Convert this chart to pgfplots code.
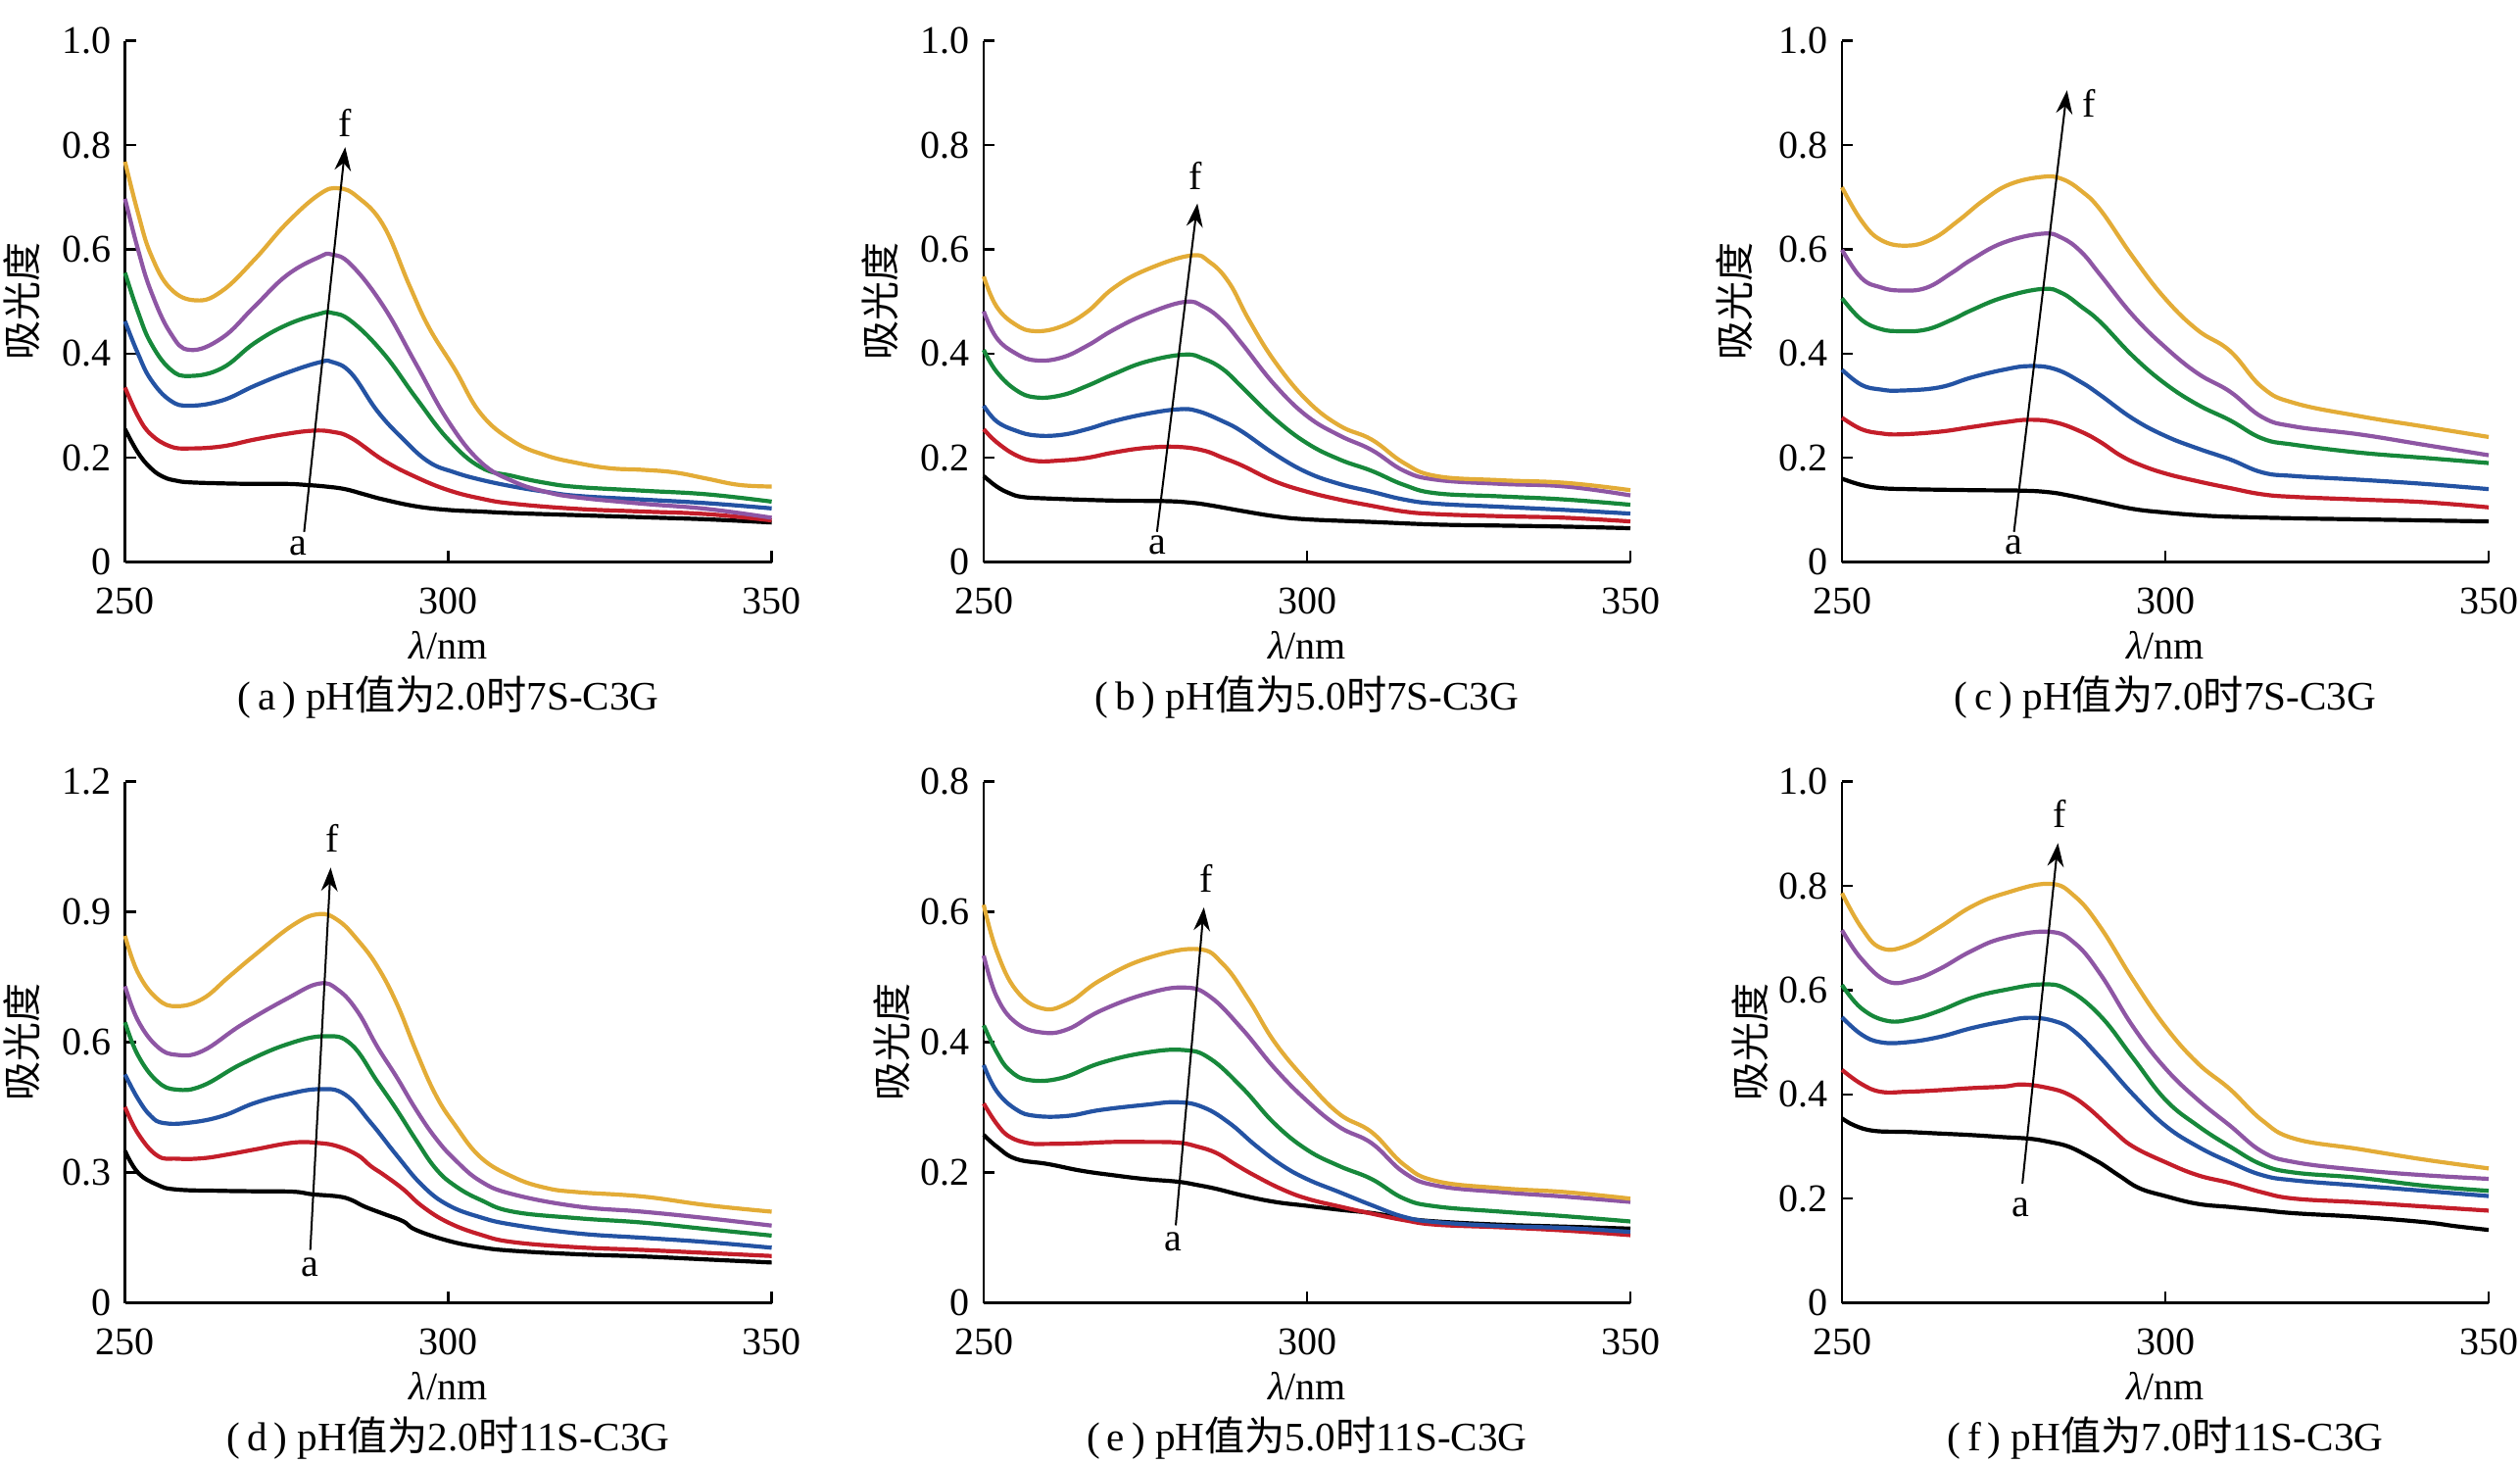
\documentclass[border=0pt]{standalone}
\usepackage{fontspec}
\setmainfont{Liberation Serif}
\newfontfamily\cjk{Noto Sans CJK SC}
\usepackage{pgfplots}
\pgfplotsset{compat=1.18}
\usetikzlibrary{arrows.meta}
\definecolor{cK}{HTML}{000000}
\definecolor{cR}{HTML}{C41E2A}
\definecolor{cB}{HTML}{2453A3}
\definecolor{cG}{HTML}{17883B}
\definecolor{cP}{HTML}{8E56A4}
\definecolor{cY}{HTML}{E3AC37}
\pgfplotsset{
  spec/.style={
    scale only axis, width=165pt, height=133pt, anchor=north west,
    xmin=250, xmax=350, ymin=0,
    axis x line*=bottom, axis y line*=left,
    axis line style={line width=0.6pt, black},
    tick align=inside, major tick length=2.8pt,
    tick style={line width=0.6pt, black},
    xtick={250,300,350},
    /pgf/number format/assume math mode=true,
    ticklabel style={font=\fontsize{10}{12}\selectfont},
    xticklabel style={yshift=-3pt},
    xlabel={\textit{λ}/nm},
    every axis x label/.style={at={(axis description cs:0.5,0)},anchor=center,yshift=-21.3pt,font=\fontsize{10}{12}\selectfont},
    ylabel={{\cjk 吸光度}},
    every axis y label/.style={at={(axis description cs:-0.16,0.5)},anchor=center,rotate=90,font=\fontsize{10}{12}\selectfont},
    every axis title/.style={at={(axis description cs:0.5,0)},anchor=center,yshift=-34.5pt,font=\fontsize{10.3}{12}\selectfont},
    clip=false,
    every axis plot/.append style={line width=1.05pt, smooth, tension=0.7, no marks},
  },
  yl/.style={every axis y label/.append style={at={(axis description cs:-#1,0.5)}}},
}
\newcommand{\arr}[8]{%
  \draw[line width=0.5pt,-{Stealth[length=6pt,width=4.2pt]}] (axis cs:#1,#2) -- (axis cs:#3,#4);
  \node[font=\fontsize{10}{12}\selectfont,inner sep=0pt] at (axis cs:#5,#6) {a};
  \node[font=\fontsize{10}{12}\selectfont,inner sep=0pt] at (axis cs:#7,#8) {f};}
\begin{document}
\begin{tikzpicture}
\useasboundingbox (0pt,0pt) rectangle (643pt,-373.25pt);
% (a)
\begin{axis}[spec, at={(31.9pt,-10.4pt)}, ymax=1, ytick={0,0.2,0.4,0.6,0.8,1.0}, yticklabels={0,0.2,0.4,0.6,0.8,1.0},
  title={(\,a\,) pH{\cjk 值为}2.0{\cjk 时}7S-C3G}]
\addplot[cK] coordinates {(250,0.255)(252,0.21)(254,0.18)(256,0.163)(258,0.156)(260,0.153)(265,0.151)(270,0.150)(275,0.150)(278,0.148)(281,0.145)(284,0.14)(287,0.13)(290,0.12)(295,0.107)(300,0.100)(305,0.097)(310,0.094)(320,0.090)(330,0.086)(340,0.082)(350,0.076)};
\addplot[cR] coordinates {(250,0.335)(252,0.28)(254,0.245)(257,0.222)(260,0.218)(265,0.222)(270,0.235)(275,0.246)(279,0.252)(282,0.25)(285,0.238)(290,0.195)(295,0.163)(300,0.138)(305,0.122)(310,0.112)(320,0.102)(330,0.097)(340,0.092)(350,0.08)};
\addplot[cB] coordinates {(250,0.462)(252,0.4)(254,0.35)(257,0.31)(260,0.3)(265,0.31)(270,0.338)(275,0.363)(280,0.383)(282,0.384)(285,0.362)(289,0.29)(293,0.236)(297,0.192)(301,0.172)(305,0.158)(310,0.145)(315,0.135)(320,0.127)(330,0.12)(340,0.113)(350,0.103)};
\addplot[cG] coordinates {(250,0.555)(252,0.48)(254,0.42)(257,0.37)(260,0.357)(265,0.372)(270,0.42)(275,0.455)(280,0.476)(282,0.478)(285,0.462)(290,0.4)(295,0.315)(300,0.235)(305,0.182)(310,0.165)(315,0.152)(320,0.144)(330,0.137)(340,0.13)(350,0.116)};
\addplot[cP] coordinates {(250,0.697)(252,0.6)(254,0.52)(257,0.44)(260,0.407)(265,0.43)(270,0.49)(275,0.55)(280,0.585)(282,0.59)(285,0.57)(290,0.49)(295,0.38)(300,0.27)(305,0.192)(310,0.155)(315,0.135)(320,0.124)(330,0.112)(340,0.102)(350,0.085)};
\addplot[cY] coordinates {(250,0.768)(252,0.67)(254,0.59)(257,0.525)(261,0.502)(265,0.52)(270,0.58)(275,0.65)(280,0.705)(283,0.717)(286,0.7)(290,0.645)(294,0.53)(297,0.45)(301,0.37)(305,0.285)(310,0.232)(315,0.205)(320,0.19)(325,0.18)(330,0.177)(335,0.172)(340,0.16)(345,0.148)(350,0.145)};
\arr{277.7}{0.058}{284.05}{0.796}{276.8}{0.03}{284.1}{0.843}
\end{axis}
% (b)
\begin{axis}[spec, at={(251pt,-10.4pt)}, ymax=1, ytick={0,0.2,0.4,0.6,0.8,1.0}, yticklabels={0,0.2,0.4,0.6,0.8,1.0},
  title={(\,b\,) pH{\cjk 值为}5.0{\cjk 时}7S-C3G}]
\addplot[cK] coordinates {(250,0.165)(252,0.145)(254,0.132)(256,0.125)(260,0.122)(270,0.118)(278,0.117)(282,0.114)(285,0.109)(290,0.098)(295,0.088)(300,0.082)(310,0.077)(320,0.072)(330,0.07)(340,0.068)(350,0.065)};
\addplot[cR] coordinates {(250,0.255)(252,0.23)(255,0.205)(258,0.194)(262,0.195)(266,0.2)(270,0.21)(275,0.219)(280,0.221)(284,0.214)(287,0.2)(290,0.185)(295,0.155)(300,0.135)(305,0.12)(310,0.108)(315,0.097)(320,0.092)(330,0.088)(340,0.085)(350,0.078)};
\addplot[cB] coordinates {(250,0.3)(252,0.27)(255,0.252)(258,0.243)(262,0.244)(266,0.255)(270,0.27)(275,0.284)(280,0.293)(283,0.29)(287,0.27)(290,0.25)(295,0.207)(300,0.172)(305,0.15)(310,0.135)(315,0.12)(320,0.112)(330,0.106)(340,0.1)(350,0.093)};
\addplot[cG] coordinates {(250,0.407)(252,0.365)(255,0.33)(258,0.316)(262,0.32)(266,0.338)(270,0.36)(275,0.384)(281,0.398)(284,0.39)(287,0.37)(290,0.335)(295,0.275)(300,0.228)(305,0.197)(310,0.175)(315,0.148)(320,0.132)(330,0.126)(340,0.12)(350,0.11)};
\addplot[cP] coordinates {(250,0.481)(252,0.43)(255,0.4)(258,0.387)(262,0.392)(266,0.415)(270,0.445)(275,0.475)(281,0.499)(284,0.49)(287,0.462)(290,0.418)(295,0.34)(300,0.28)(305,0.243)(310,0.215)(315,0.175)(320,0.158)(330,0.15)(340,0.145)(350,0.128)};
\addplot[cY] coordinates {(250,0.548)(252,0.49)(255,0.455)(258,0.443)(262,0.452)(266,0.48)(270,0.525)(275,0.56)(282,0.588)(285,0.575)(288,0.535)(291,0.465)(295,0.385)(300,0.31)(305,0.262)(310,0.235)(315,0.19)(320,0.165)(330,0.157)(340,0.152)(350,0.138)};
\arr{276.8}{0.058}{283.05}{0.688}{276.8}{0.032}{282.8}{0.741}
\end{axis}
% (c)
\begin{axis}[spec, yl=0.167, at={(470pt,-10.4pt)}, ymax=1, ytick={0,0.2,0.4,0.6,0.8,1.0}, yticklabels={0,0.2,0.4,0.6,0.8,1.0},
  title={(\,c\,) pH{\cjk 值为}7.0{\cjk 时}7S-C3G}]
\addplot[cK] coordinates {(250,0.16)(253,0.148)(256,0.142)(260,0.14)(270,0.138)(278,0.137)(282,0.134)(285,0.128)(290,0.115)(295,0.102)(300,0.095)(305,0.09)(310,0.087)(320,0.084)(330,0.082)(340,0.08)(350,0.078)};
\addplot[cR] coordinates {(250,0.277)(253,0.255)(256,0.247)(259,0.245)(265,0.25)(270,0.259)(275,0.268)(279,0.273)(283,0.268)(287,0.25)(290,0.23)(293,0.205)(296,0.187)(300,0.17)(305,0.155)(310,0.142)(315,0.13)(320,0.125)(330,0.12)(340,0.115)(350,0.105)};
\addplot[cB] coordinates {(250,0.369)(253,0.34)(256,0.331)(259,0.329)(265,0.335)(270,0.354)(275,0.369)(279,0.376)(283,0.37)(287,0.345)(290,0.32)(295,0.275)(300,0.242)(305,0.218)(310,0.197)(315,0.172)(320,0.165)(330,0.158)(340,0.15)(350,0.14)};
\addplot[cG] coordinates {(250,0.506)(253,0.465)(256,0.447)(259,0.443)(263,0.446)(267,0.465)(270,0.483)(275,0.508)(281,0.524)(284,0.516)(287,0.49)(290,0.46)(295,0.395)(300,0.342)(305,0.302)(310,0.272)(315,0.237)(320,0.225)(330,0.21)(340,0.2)(350,0.19)};
\addplot[cP] coordinates {(250,0.599)(253,0.545)(256,0.527)(259,0.521)(263,0.526)(267,0.555)(270,0.58)(275,0.613)(281,0.63)(284,0.622)(287,0.595)(290,0.55)(295,0.473)(300,0.412)(305,0.362)(310,0.327)(315,0.278)(320,0.26)(330,0.245)(340,0.225)(350,0.205)};
\addplot[cY] coordinates {(250,0.719)(253,0.655)(256,0.618)(260,0.607)(264,0.62)(268,0.655)(272,0.695)(276,0.725)(281,0.739)(284,0.735)(287,0.712)(290,0.675)(295,0.585)(300,0.505)(305,0.445)(310,0.405)(315,0.335)(320,0.305)(330,0.28)(340,0.26)(350,0.24)};
\arr{276.6}{0.058}{284.8}{0.905}{276.6}{0.032}{288.2}{0.881}
\end{axis}
% (d)
\begin{axis}[spec, at={(31.9pt,-199.4pt)}, ymax=1.2, ytick={0,0.3,0.6,0.9,1.2}, yticklabels={0,0.3,0.6,0.9,1.2},
  title={(\,d\,) pH{\cjk 值为}2.0{\cjk 时}11S-C3G}]
\addplot[cK] coordinates {(250,0.35)(252,0.3)(255,0.272)(258,0.261)(265,0.258)(270,0.257)(276,0.256)(279,0.25)(283,0.245)(285,0.237)(287,0.222)(290,0.205)(293,0.188)(295,0.168)(300,0.143)(305,0.128)(310,0.12)(320,0.112)(330,0.107)(340,0.1)(350,0.093)};
\addplot[cR] coordinates {(250,0.451)(252,0.39)(255,0.339)(258,0.332)(262,0.333)(266,0.342)(270,0.353)(276,0.369)(280,0.368)(283,0.36)(286,0.34)(288,0.315)(290,0.295)(293,0.262)(296,0.222)(300,0.185)(305,0.157)(310,0.14)(320,0.128)(330,0.122)(340,0.115)(350,0.108)};
\addplot[cB] coordinates {(250,0.526)(252,0.47)(254,0.43)(256,0.414)(260,0.415)(265,0.43)(270,0.46)(275,0.48)(280,0.492)(284,0.48)(288,0.415)(292,0.34)(296,0.27)(300,0.225)(305,0.197)(310,0.18)(320,0.16)(330,0.15)(340,0.14)(350,0.127)};
\addplot[cG] coordinates {(250,0.646)(252,0.57)(255,0.51)(258,0.491)(262,0.5)(268,0.55)(275,0.595)(281,0.614)(285,0.595)(289,0.51)(292,0.445)(295,0.375)(298,0.31)(301,0.27)(305,0.237)(310,0.21)(320,0.195)(330,0.185)(340,0.17)(350,0.155)};
\addplot[cP] coordinates {(250,0.729)(252,0.65)(255,0.59)(258,0.571)(262,0.58)(268,0.64)(275,0.7)(280,0.735)(283,0.72)(286,0.67)(289,0.59)(292,0.52)(295,0.445)(298,0.38)(301,0.33)(305,0.28)(310,0.25)(320,0.222)(330,0.21)(340,0.195)(350,0.178)};
\addplot[cY] coordinates {(250,0.845)(252,0.76)(255,0.7)(258,0.683)(262,0.7)(266,0.75)(270,0.8)(276,0.87)(280,0.895)(283,0.88)(286,0.835)(289,0.775)(292,0.69)(295,0.58)(298,0.48)(301,0.41)(305,0.335)(310,0.29)(315,0.265)(320,0.255)(330,0.245)(340,0.225)(350,0.21)};
\arr{278.65}{0.122}{281.8}{1.002}{278.65}{0.082}{282.06}{1.07}
\end{axis}
% (e)
\begin{axis}[spec, yl=0.1424, at={(251pt,-199.4pt)}, ymax=0.8, ytick={0,0.2,0.4,0.6,0.8}, yticklabels={0,0.2,0.4,0.6,0.8},
  title={(\,e\,) pH{\cjk 值为}5.0{\cjk 时}11S-C3G}]
\addplot[cK] coordinates {(250,0.258)(252,0.24)(255,0.221)(260,0.213)(265,0.203)(270,0.196)(275,0.19)(280,0.186)(283,0.181)(286,0.175)(290,0.165)(295,0.155)(300,0.149)(305,0.143)(310,0.138)(315,0.13)(320,0.125)(330,0.12)(340,0.117)(350,0.114)};
\addplot[cR] coordinates {(250,0.306)(252,0.275)(254,0.255)(257,0.245)(260,0.244)(265,0.245)(270,0.247)(275,0.247)(280,0.246)(283,0.24)(286,0.23)(289,0.212)(292,0.195)(296,0.175)(300,0.16)(305,0.148)(310,0.137)(315,0.127)(320,0.12)(330,0.116)(340,0.111)(350,0.104)};
\addplot[cB] coordinates {(250,0.365)(252,0.325)(255,0.297)(258,0.287)(263,0.287)(268,0.296)(275,0.304)(280,0.308)(284,0.3)(288,0.276)(292,0.242)(296,0.212)(300,0.19)(305,0.17)(310,0.15)(315,0.132)(320,0.124)(330,0.118)(340,0.115)(350,0.109)};
\addplot[cG] coordinates {(250,0.426)(252,0.385)(254,0.357)(257,0.342)(262,0.345)(268,0.368)(275,0.384)(281,0.388)(285,0.375)(290,0.33)(295,0.275)(300,0.235)(305,0.21)(310,0.19)(315,0.16)(320,0.148)(330,0.14)(340,0.133)(350,0.125)};
\addplot[cP] coordinates {(250,0.533)(252,0.47)(255,0.43)(259,0.415)(263,0.42)(268,0.448)(275,0.474)(281,0.484)(285,0.47)(290,0.42)(295,0.36)(300,0.31)(305,0.27)(310,0.245)(315,0.2)(320,0.18)(330,0.17)(340,0.163)(350,0.155)};
\addplot[cY] coordinates {(250,0.611)(252,0.54)(255,0.48)(259,0.452)(263,0.46)(268,0.495)(275,0.528)(283,0.543)(287,0.52)(291,0.465)(295,0.4)(300,0.34)(305,0.29)(310,0.262)(315,0.212)(320,0.187)(330,0.176)(340,0.17)(350,0.16)};
\arr{279.7}{0.119}{284.05}{0.607}{279.3}{0.094}{284.4}{0.652}
\end{axis}
% (f)
\begin{axis}[spec, yl=0.1424, at={(470pt,-199.4pt)}, ymax=1, ytick={0,0.2,0.4,0.6,0.8,1.0}, yticklabels={0,0.2,0.4,0.6,0.8,1.0},
  title={(\,f\,) pH{\cjk 值为}7.0{\cjk 时}11S-C3G}]
\addplot[cK] coordinates {(250,0.354)(252,0.34)(255,0.33)(260,0.328)(265,0.325)(270,0.322)(275,0.318)(279,0.315)(282,0.309)(285,0.3)(288,0.282)(290,0.268)(293,0.243)(296,0.22)(300,0.205)(305,0.19)(310,0.184)(315,0.178)(320,0.172)(330,0.165)(340,0.155)(345,0.147)(350,0.14)};
\addplot[cR] coordinates {(250,0.447)(253,0.42)(256,0.405)(260,0.405)(265,0.408)(270,0.412)(275,0.415)(278,0.419)(282,0.412)(285,0.4)(288,0.375)(292,0.33)(295,0.3)(300,0.27)(305,0.245)(310,0.23)(315,0.212)(320,0.2)(330,0.193)(340,0.185)(350,0.177)};
\addplot[cB] coordinates {(250,0.548)(253,0.515)(256,0.5)(260,0.5)(265,0.51)(270,0.527)(275,0.54)(279,0.547)(283,0.54)(286,0.52)(290,0.47)(295,0.4)(300,0.34)(305,0.3)(310,0.27)(315,0.245)(320,0.235)(330,0.225)(340,0.215)(350,0.205)};
\addplot[cG] coordinates {(250,0.61)(253,0.565)(257,0.541)(261,0.545)(265,0.56)(270,0.585)(275,0.6)(281,0.611)(285,0.6)(290,0.55)(295,0.47)(300,0.39)(305,0.34)(310,0.3)(315,0.265)(320,0.25)(330,0.24)(340,0.225)(350,0.215)};
\addplot[cP] coordinates {(250,0.715)(253,0.66)(257,0.617)(261,0.62)(265,0.64)(270,0.675)(275,0.7)(282,0.712)(286,0.69)(290,0.63)(295,0.53)(300,0.45)(305,0.39)(310,0.34)(315,0.29)(320,0.27)(330,0.255)(340,0.245)(350,0.238)};
\addplot[cY] coordinates {(250,0.786)(253,0.72)(256,0.681)(260,0.685)(265,0.72)(270,0.76)(275,0.785)(282,0.804)(286,0.78)(290,0.72)(295,0.62)(300,0.53)(305,0.46)(310,0.41)(315,0.35)(320,0.315)(330,0.295)(340,0.275)(350,0.258)};
\arr{277.9}{0.229}{283.4}{0.882}{277.7}{0.182}{283.7}{0.938}
\end{axis}
\end{tikzpicture}
\end{document}
